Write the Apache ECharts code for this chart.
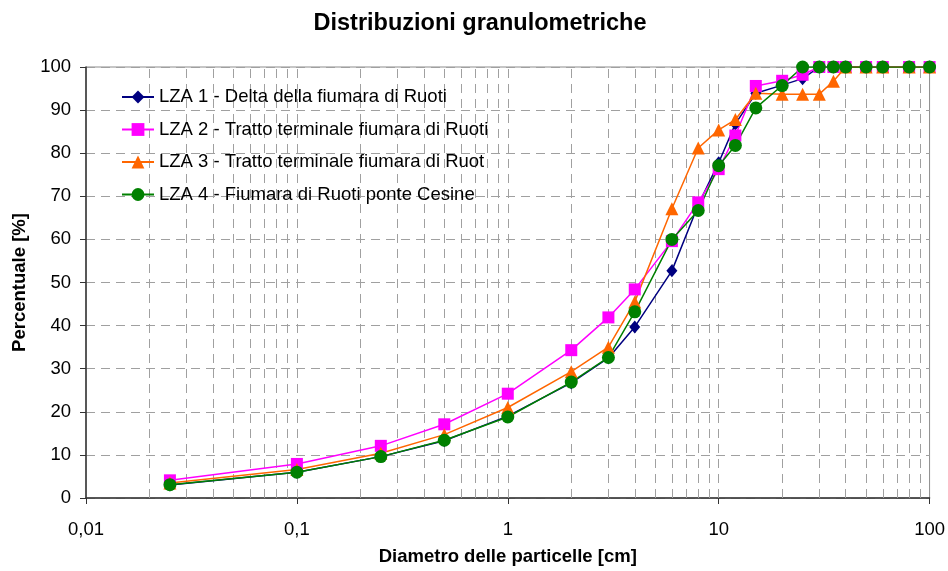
<!DOCTYPE html>
<html>
<head>
<meta charset="utf-8">
<script src="https://cdn.jsdelivr.net/npm/echarts@6/dist/echarts.min.js"></script>
<style>
html,body{margin:0;padding:0;background:#fff;}
#chart{width:948px;height:571px;}
</style>
</head>
<body>
<div id="chart"></div>
<script>
// Sieve diameters [cm]
var diameters = [0.025, 0.1, 0.25, 0.5, 1, 2, 3, 4, 6, 8, 10, 12, 15, 20, 25, 30, 35, 40, 50, 60, 80, 100];
// Cumulative passing [%]
var lza1 = [3.0, 6.0, 9.6, 13.3, 19.0, 26.7, 32.5, 39.7, 52.7, 68.0, 77.8, 86.8, 93.9, 95.8, 97.3, 100, 100, 100, 100, 100, 100, 100];
var lza2 = [4.1, 7.9, 12.1, 17.1, 24.2, 34.3, 41.9, 48.4, 59.6, 68.6, 76.3, 84.1, 95.6, 96.8, 98.2, 100, 100, 100, 100, 100, 100, 100];
var lza3 = [3.5, 6.6, 10.4, 14.7, 21.0, 29.3, 35.0, 45.5, 67.1, 81.2, 85.4, 87.8, 93.9, 93.7, 93.7, 93.7, 96.7, 100, 100, 100, 100, 100];
var lza4 = [3.1, 6.0, 9.6, 13.4, 18.8, 26.9, 32.6, 43.2, 60.0, 66.7, 77.1, 81.8, 90.5, 95.7, 100, 100, 100, 100, 100, 100, 100, 100];
var seriesNames = [
  'LZA 1 - Delta della fiumara di Ruoti',
  'LZA 2 - Tratto terminale fiumara di Ruoti',
  'LZA 3 - Tratto terminale fiumara di Ruot',
  'LZA 4 - Fiumara di Ruoti ponte Cesine'
];
// Vertical gridlines (log-axis minor divisions)
var minorGridX = [0.02,0.03,0.04,0.05,0.06,0.07,0.08,0.09,
                  0.2,0.3,0.4,0.5,0.6,0.7,0.8,0.9,
                  2,3,4,5,6,7,8,9,
                  20,30,40,50,60,70,80,90];
var majorGridX = [0.1, 1, 10];

var FONT = '"Liberation Sans", Arial, sans-serif';
var gridLineStyle = {color: '#a0a0a0', width: 1, type: [9, 6]};

function pairs(ys) {
  return diameters.map(function (d, i) { return [d, ys[i]]; });
}

var chart = echarts.init(document.getElementById('chart'), null, {renderer: 'canvas'});
chart.setOption({
  animation: false,
  backgroundColor: '#ffffff',
  title: {
    text: 'Distribuzioni granulometriche',
    left: 475, top: 7, textAlign: 'center',
    textStyle: {fontFamily: FONT, fontSize: 23.5, fontWeight: 'bold', color: '#000'}
  },
  grid: {
    left: 86, right: 17, top: 67, bottom: 71,
    show: true, borderColor: '#8c8c8c', borderWidth: 1, backgroundColor: 'transparent'
  },
  legend: {
    orient: 'vertical', left: 116, top: 82,
    itemWidth: 32, itemHeight: 16, itemGap: 12.5,
    data: seriesNames,
    textStyle: {fontFamily: FONT, fontSize: 18.5, color: '#000', lineHeight: 20}
  },
  xAxis: {
    type: 'log', logBase: 10, min: 0.01, max: 100,
    name: 'Diametro delle particelle [cm]',
    nameLocation: 'middle', nameGap: 49,
    nameTextStyle: {fontFamily: FONT, fontSize: 18.5, fontWeight: 'bold', color: '#000'},
    axisLine: {show: true, lineStyle: {color: '#333', width: 1.5}},
    axisTick: {show: true, length: 6, lineStyle: {color: '#333'}},
    axisLabel: {
      margin: 22, fontFamily: FONT, fontSize: 18.5, color: '#000',
      formatter: function (v) { return String(Number(v.toPrecision(6))).replace('.', ','); }
    },
    splitLine: {show: false}
  },
  yAxis: {
    type: 'value', min: 0, max: 100, interval: 10,
    name: 'Percentuale [%]',
    nameLocation: 'middle', nameGap: 55,
    nameTextStyle: {fontFamily: FONT, fontSize: 18.5, fontWeight: 'bold', color: '#000'},
    axisLine: {show: true, lineStyle: {color: '#333', width: 1.5}},
    axisTick: {show: true, length: 6, lineStyle: {color: '#333'}},
    axisLabel: {margin: 15, fontFamily: FONT, fontSize: 18.5, color: '#000'},
    splitLine: {show: true, lineStyle: gridLineStyle}
  },
  series: [
    {
      name: 'gridlines', type: 'line', data: [], silent: true,
      markLine: {
        silent: true, symbol: 'none', z: 1, animation: false,
        label: {show: false},
        lineStyle: gridLineStyle,
        emphasis: {disabled: true},
        data: minorGridX.concat(majorGridX).map(function (v) { return {xAxis: v}; })
      }
    },
    {
      name: seriesNames[0], type: 'line', data: pairs(lza1), z: 3,
      symbol: 'diamond', symbolSize: [11, 13],
      itemStyle: {color: '#000080'}, lineStyle: {color: '#000080', width: 1.5}
    },
    {
      name: seriesNames[1], type: 'line', data: pairs(lza2), z: 3,
      symbol: 'rect', symbolSize: 12,
      itemStyle: {color: '#ff00ff'}, lineStyle: {color: '#ff00ff', width: 1.5}
    },
    {
      name: seriesNames[2], type: 'line', data: pairs(lza3), z: 3,
      symbol: 'triangle', symbolSize: 13,
      itemStyle: {color: '#ff6600'}, lineStyle: {color: '#ff6600', width: 1.5}
    },
    {
      name: seriesNames[3], type: 'line', data: pairs(lza4), z: 3,
      symbol: 'circle', symbolSize: 13,
      itemStyle: {color: '#008000'}, lineStyle: {color: '#008000', width: 1.5}
    }
  ]
});
</script>
</body>
</html>
